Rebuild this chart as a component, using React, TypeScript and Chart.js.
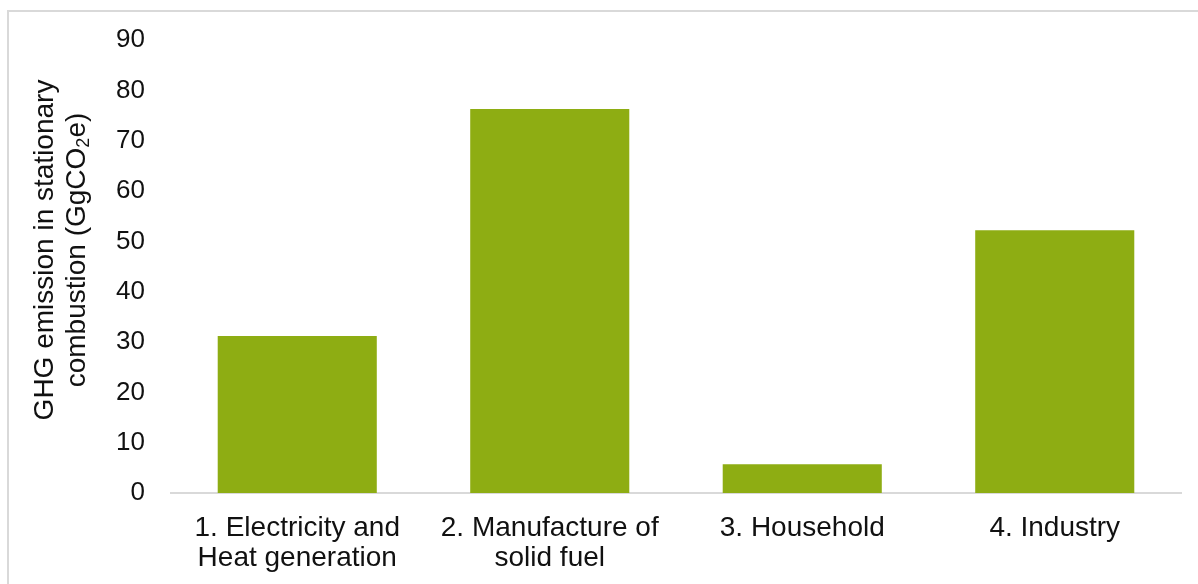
import React, { useEffect, useRef } from "react";
import { Chart, registerables } from "chart.js";

Chart.register(...registerables);

const categories: string[][] = [
  ["1. Electricity and", "Heat generation"],
  ["2. Manufacture of", "solid fuel"],
  ["3. Household"],
  ["4. Industry"],
];
const emissions: number[] = [31.2, 76.3, 5.7, 52.2];
const yMin = 0;
const yMax = 90;
const yStep = 10;
const titleLine1 = "GHG emission in stationary";
const titleLine2Parts = ["combustion (GgCO", "2", "e)"];

const FONT = "'Liberation Sans', Arial, sans-serif";

const yTitlePlugin = {
  id: "yTitle",
  afterDraw(chart: any) {
    const ctx = chart.ctx;
    const cy = 238;
    ctx.save();
    ctx.fillStyle = "#111";
    ctx.textBaseline = "middle";
    ctx.save();
    ctx.translate(36, cy);
    ctx.rotate(-Math.PI / 2);
    ctx.font = `28px ${FONT}`;
    ctx.textAlign = "center";
    ctx.fillText(titleLine1, 0, 0);
    ctx.restore();
    ctx.save();
    ctx.translate(68, cy);
    ctx.rotate(-Math.PI / 2);
    const big = `28px ${FONT}`;
    const small = `18px ${FONT}`;
    ctx.font = big;
    const w0 = ctx.measureText(titleLine2Parts[0]).width;
    const w2 = ctx.measureText(titleLine2Parts[2]).width;
    ctx.font = small;
    const w1 = ctx.measureText(titleLine2Parts[1]).width;
    const total = w0 + w1 + w2;
    let x = -total / 2;
    ctx.textAlign = "left";
    ctx.font = big;
    ctx.fillText(titleLine2Parts[0], x, 0);
    x += w0;
    ctx.font = small;
    ctx.fillText(titleLine2Parts[1], x, 7);
    x += w1;
    ctx.font = big;
    ctx.fillText(titleLine2Parts[2], x, 0);
    ctx.restore();
    ctx.restore();
  },
};

export default function App() {
  const ref = useRef<HTMLCanvasElement>(null);
  useEffect(() => {
    if (!ref.current) return;
    const chart = new Chart(ref.current, {
      type: "bar",
      data: {
        labels: categories,
        datasets: [
          {
            data: emissions,
            backgroundColor: "#8EAD13",
            borderWidth: 0,
            categoryPercentage: 1,
            barPercentage: 0.63,
          },
        ],
      },
      options: {
        animation: false,
        responsive: false,
        maintainAspectRatio: false,
        layout: { padding: { top: 28, right: 17, left: 0, bottom: 0 } },
        plugins: {
          legend: { display: false },
          tooltip: { enabled: false },
        },
        scales: {
          x: {
            grid: { display: false, drawTicks: false },
            border: { display: true, color: "#d9d9d9", width: 2 },
            ticks: {
              color: "#111",
              padding: 20,
              maxRotation: 0,
              autoSkip: false,
              font: { family: FONT, size: 28, lineHeight: 30 / 28 },
            },
            afterFit: (scale: any) => {
              scale.height = 91;
            },
          },
          y: {
            min: yMin,
            max: yMax,
            grid: { display: false, drawTicks: false },
            border: { display: false },
            ticks: {
              stepSize: yStep,
              color: "#111",
              padding: 26,
              font: { family: FONT, size: 26 },
            },
            afterFit: (scale: any) => {
              scale.width = 162;
              scale.paddingTop = 0;
              scale.paddingBottom = 0;
            },
          },
        },
      },
      plugins: [yTitlePlugin],
    });
    return () => chart.destroy();
  }, []);
  return (
    <div
      style={{
        position: "absolute",
        left: 7,
        top: 10,
        width: 1191,
        height: 574,
        borderTop: "2px solid #d9d9d9",
        borderLeft: "2px solid #d9d9d9",
        background: "#fff",
      }}
    >
      <canvas ref={ref} width={1189} height={572} style={{ display: "block" }} />
    </div>
  );
}
